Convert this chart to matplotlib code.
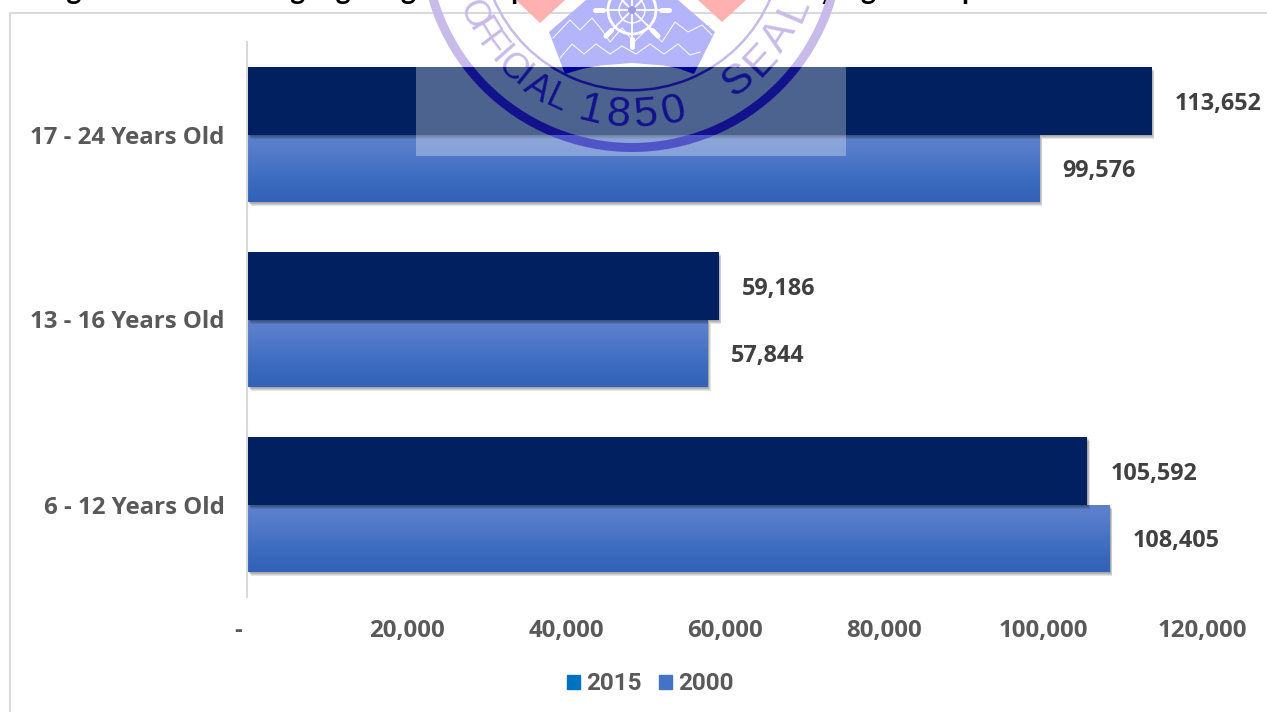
import numpy as np
import matplotlib
matplotlib.use("Agg")
import matplotlib.pyplot as plt
import matplotlib.patheffects as pe
from matplotlib.patches import Patch, Polygon, Rectangle, Circle, Wedge
from matplotlib.lines import Line2D

categories = ["6 - 12 Years Old", "13 - 16 Years Old", "17 - 24 Years Old"]
values_2015 = [105592, 59186, 113652]
values_2000 = [108405, 57844, 99576]
x_ticks = [0, 20000, 40000, 60000, 80000, 100000, 120000]
x_labels = ["-   ", "20,000", "40,000", "60,000", "80,000", "100,000", "120,000"]
series_names = ["2015", "2000"]
title_parts = [("Figure", 44), ("Highlighting", 262), ("Population", 478), ("by Age Group", 803)]

W, H = 1267, 712
NAVY = "#002060"
GREY = "#595959"
LABEL = "#404040"
LINE = "#D9D9D9"
FONT = ["Open Sans", "DejaVu Sans"]

fig = plt.figure(figsize=(W / 100, H / 100), dpi=100, facecolor="white")
ax = fig.add_axes([248 / W, 1 - 597 / H, (1202 - 248) / W, 555 / H])
ax.set_xlim(0, 120000)
ax.set_ylim(-0.5, 2.5)
ax.set_facecolor("none")

bar_h = 67.5 / 185
y = np.arange(len(categories))
shadow = [pe.SimplePatchShadow(offset=(k * 0.6, -k), shadow_rgbFace="#000000", alpha=0.1) for k in (3.2, 2.4, 1.6, 0.9)] + [pe.Normal()]

bars_2000 = ax.barh(y - bar_h / 2, values_2000, height=bar_h, color="#4472C4", zorder=2, path_effects=shadow)
bars_2015 = ax.barh(y + bar_h / 2, values_2015, height=bar_h, color=NAVY, zorder=3, path_effects=shadow)

grad = np.array([[0.361, 0.502, 0.800], [0.325, 0.478, 0.788], [0.267, 0.447, 0.769],
                 [0.235, 0.420, 0.745], [0.200, 0.388, 0.722]])[:, None, :]
for b in bars_2000:
    im = ax.imshow(grad, aspect="auto", interpolation="bicubic", zorder=2.5,
                   extent=(b.get_x(), b.get_x() + b.get_width(), b.get_y(), b.get_y() + b.get_height()))
    im.set_clip_path(b)
ax.set_xlim(0, 120000)
ax.set_ylim(-0.5, 2.5)

for yy, v in zip(y + bar_h / 2, values_2015):
    ax.annotate(f"{v:,}", (v, yy), xytext=(16.5, -2), textcoords="offset points", va="center", ha="left",
                fontsize=16.8, fontweight="bold", color=LABEL, family=FONT, zorder=6)
for yy, v in zip(y - bar_h / 2, values_2000):
    ax.annotate(f"{v:,}", (v, yy), xytext=(16.5, -2), textcoords="offset points", va="center", ha="left",
                fontsize=16.8, fontweight="bold", color=LABEL, family=FONT, zorder=6)

for s in ("top", "right", "bottom"):
    ax.spines[s].set_visible(False)
ax.spines["left"].set_color(LINE)
ax.spines["left"].set_linewidth(1.5)
ax.spines["left"].set_position(("outward", 1))
ax.set_yticks(y, categories)
ax.set_xticks(x_ticks, x_labels)
ax.tick_params(axis="y", length=0, pad=16, labelsize=17.3, labelcolor=GREY)
ax.tick_params(axis="x", length=0, pad=16, labelsize=17.3, labelcolor=GREY)
for t in ax.get_xticklabels() + ax.get_yticklabels():
    t.set_family(FONT)
    t.set_fontweight("bold")

handles = [Patch(color="#0070C0"), Patch(color="#4472C4")]
leg = fig.legend(handles, series_names, loc="center", bbox_to_anchor=(650.5 / W, 1 - 684 / H), ncol=2, frameon=False,
                 prop={"family": "Roboto", "weight": "bold", "size": 17.5}, handlelength=0.54, handleheight=0.54,
                 handletextpad=0.25, columnspacing=0.7, labelcolor=GREY)

# pixel-space overlay for chart frame, cropped title and the watermark seal
ov = fig.add_axes([0, 0, 1, 1], zorder=10)
ov.set_xlim(0, W)
ov.set_ylim(H, 0)
ov.axis("off")

ov.plot([10, 10, W], [H, 12.5, 12.5], color=LINE, lw=1.5, zorder=1)
for word, px in title_parts:
    ov.text(px, -1, word, fontsize=20.5, fontweight="bold", color="black", family=["Lato", "DejaVu Sans"],
            ha="left", va="baseline", zorder=2)

ov.add_patch(Rectangle((416, 67), 430, 89, color="white", alpha=0.3, lw=0, zorder=3))

cx, cy = 632, -60
bands = [(0, 67, "#C8BBE9", "#B4B4FA"), (67, 135, "#12128C", "#00009A"), (135, 156, "#4F55C8", "#4F55C8")]
for top, bottom, ring_col, fill_col in bands:
    clip = Rectangle((0, top), W, bottom - top, transform=ov.transData)
    items = []
    items.append(ov.add_patch(Wedge((cx, cy), 212, 0, 360, width=9, color=ring_col, lw=0, zorder=5)))
    items.append(ov.add_patch(Wedge((cx, cy), 151.5, 0, 360, width=2.5, color=ring_col, lw=0, zorder=5)))
    dome = [(565, 74), (582, 69), (600, 65.5), (632, 63), (664, 65.5), (680, 69), (694, 74)]
    outline = [(586, 0), (549, 32), (565, 74)] + dome + [(694, 74), (715, 32), (678, 0)]
    items.append(ov.add_patch(Polygon(outline, closed=True, color=fill_col, lw=0, zorder=4)))
    letters = [("O", -65), ("F", -58.5), ("F", -53), ("I", -48.5), ("C", -43.5), ("I", -38.5), ("A", -32.5), ("L", -25)]
    big = [("1", -13.5), ("8", -4.5), ("5", 4.5), ("0", 13.5)]
    seal = [("S", 37), ("E", 47), ("A", 57), ("L", 67)]
    for group, r, size in ((letters, 176, 26), (big, 176, 31), (seal, 176, 31)):
        for ch, th in group:
            a = np.radians(th)
            items.append(ov.text(cx + r * np.sin(a), cy + r * np.cos(a), ch, fontsize=size, family="Liberation Sans",
                                 color=ring_col, rotation=th, rotation_mode="anchor", ha="center", va="center", zorder=6))
    for it in items:
        it.set_clip_on(True)
        it.set_clip_path(clip)

ov.add_patch(Polygon([(516, 0), (565, 0), (540, 23)], closed=True, color="#FFB0B0", lw=0, zorder=4))
ov.add_patch(Polygon([(698, 0), (746, 0), (722, 22)], closed=True, color="#FFB0B0", lw=0, zorder=4))

zig1 = [(553, 38), (570, 20), (580, 30), (592, 18), (602, 30), (610, 42), (622, 28), (634, 42), (648, 28), (662, 42), (675, 22), (688, 32), (702, 25), (712, 35)]
zig2 = [(560, 58), (572, 44), (584, 54), (596, 44), (610, 54), (622, 46), (636, 54), (650, 44), (664, 54), (678, 44), (690, 55), (700, 52)]
for z in (zig1, zig2):
    ov.plot(*zip(*z), color="white", lw=0.7, zorder=5)

# ship's wheel
wx, wy = 632, 10
ov.add_patch(Circle((wx, wy), 24, fill=False, ec="white", lw=2.0, zorder=7))
ov.add_patch(Circle((wx, wy), 13, fill=False, ec="white", lw=1.0, zorder=7))
for a in np.radians(np.arange(0, 360, 45)):
    ov.add_line(Line2D([wx, wx + 30 * np.sin(a)], [wy, wy + 30 * np.cos(a)], color="white", lw=1.3, zorder=7))
    ov.add_line(Line2D([wx + 29 * np.sin(a), wx + 37 * np.sin(a)], [wy + 29 * np.cos(a), wy + 37 * np.cos(a)],
                       color="white", lw=3.6, solid_capstyle="round", zorder=7))
ov.add_patch(Circle((wx, wy), 4, color="#9C9CE8", lw=0, zorder=8))

fig.savefig("out.png", dpi=100, facecolor="white")
